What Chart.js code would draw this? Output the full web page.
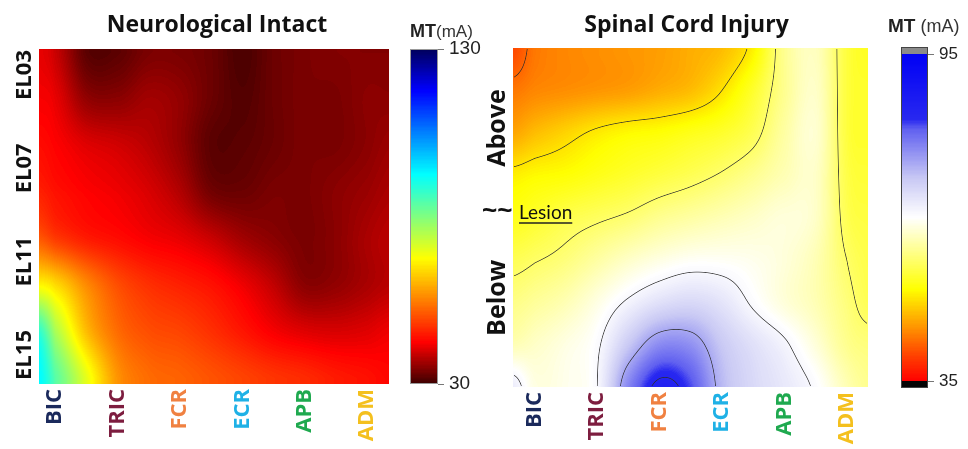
<!doctype html>
<html lang="en">
  <head>
    <meta charset="UTF-8" />
    <title>Motor Threshold Maps</title>
    <script src="https://cdn.jsdelivr.net/npm/chart.js"></script>
    <style>
      body { margin: 0; background: #fff; }
      #wrap { position: relative; width: 968px; height: 449px; }
      canvas { position: absolute; top: 0; }
    </style>
  </head>
  <body>
    <div id="wrap">
      <canvas id="niMap" width="400" height="449" style="left: 0"></canvas>
      <canvas id="niBar" width="90" height="449" style="left: 400px"></canvas>
      <canvas id="sciMap" width="410" height="449" style="left: 470px"></canvas>
      <canvas id="sciBar" width="88" height="449" style="left: 880px"></canvas>
    </div>

    <script>
      // muscles along the x axis
      var muscles = ["BIC", "TRIC", "FCR", "ECR", "APB", "ADM"];
      var muscleColors = ["#1b2a5c", "#7d1d3f", "#f08141", "#1fb1e6", "#1fa94f", "#f4c01e"];

      // Neurological intact: MT (mA), rows = electrode EL02..EL16, cols = muscle position
      var niElectrodeTicks = [3, 7, 11, 15];
      var niCols = [-0.26, 0, 0.5, 1, 1.5, 2, 2.5, 3, 3.5, 4, 4.5, 5, 5.35];
      var niRows = [2, 4, 6, 8, 10, 12, 14, 16];
      var niMT = [
        [41, 39, 32, 32, 34, 34, 33, 31, 33, 34, 34.5, 34.5, 34.5],
        [42, 41, 35.5, 35, 36.5, 35.5, 33, 31.5, 33, 34, 34, 35, 35],
        [43.5, 42.5, 40.5, 39.5, 38, 35.5, 32, 32, 33, 34, 34, 35, 36],
        [45.5, 44, 42.5, 41.5, 40, 37.5, 33.5, 33, 34, 34, 35, 36, 37],
        [51, 48, 45, 43.5, 42, 41, 39, 36.5, 35, 34, 35, 37, 38],
        [67, 64, 56, 50, 47, 45.5, 44, 41.5, 38.5, 35, 35.5, 37, 38],
        [88, 76, 61, 53, 50, 49, 47, 44.5, 42, 40.5, 40, 40.5, 41.5],
        [93, 84, 70, 57, 53, 52, 50.5, 49, 47.5, 46.5, 45, 44, 43],
      ];
      var niRange = [30, 130];

      // Spinal cord injury: MT (mA), rows = position from top (0) to bottom (1)
      var sciCols = [-0.35, 0, 0.5, 1, 1.5, 2, 2.5, 3, 3.5, 4, 4.5, 5, 5.34];
      var sciRows = [0, 0.125, 0.25, 0.375, 0.5, 0.625, 0.75, 0.875, 1];
      var sciMT = [
        [40, 43, 44, 44.5, 45, 45.5, 46.5, 47.5, 51, 59, 61.5, 55, 53.5],
        [43, 44, 44.5, 45, 45.5, 46.5, 47.5, 50, 54, 59, 62, 55, 54],
        [46, 47.5, 49, 50.5, 51.5, 52, 53, 54, 56, 60, 62.5, 55, 54],
        [50.8, 51.5, 52, 53, 54, 55, 56, 57.3, 59, 61, 62, 55.5, 54.5],
        [53, 54, 55.5, 56.5, 57.5, 59, 60, 61, 62, 63, 62, 56, 55],
        [56, 56.8, 58, 60, 62, 63.5, 64.5, 64.5, 64, 63, 61, 57, 55.5],
        [58.5, 59.5, 61, 63.5, 66.5, 69, 70, 68.5, 65.5, 63, 61, 58, 56],
        [61, 62, 63.5, 65.5, 72, 77.5, 77, 72, 69, 66.5, 63, 59, 58],
        [67.5, 63.5, 64, 66, 78, 85, 82, 73.5, 70, 68, 65.5, 61, 59],
      ];
      var sciLevels = [42, 50, 57, 66, 75, 84];
      var sciRange = [35, 95];
      var sciRegions = ["Above", "Below"];
      var sciRegionAt = [0.236, 0.737];
      var sciLesionAt = 0.487;

      // colour maps (t from 0 = low MT to 1 = high MT)
      var jetStops = [
        [0, [60, 0, 0]], [0.125, [255, 0, 0]], [0.375, [255, 255, 0]],
        [0.625, [0, 255, 255]], [0.875, [0, 0, 255]], [1, [0, 0, 90]],
      ];
      var sciStops = [
        [0, [255, 0, 0]], [0.07, [255, 58, 0]], [0.16, [255, 144, 0]], [0.28, [255, 255, 0]],
        [0.4, [255, 255, 144]], [0.5, [255, 255, 255]], [0.62, [200, 200, 244]],
        [0.77, [96, 96, 240]], [0.8, [40, 40, 240]], [1, [0, 0, 245]],
      ];

      var boldFont = "'Open Sans'";
      Chart.defaults.font.family = "Open Sans";

      function makeLut(stops) {
        var out = [];
        for (var k = 0; k < 256; k++) {
          var t = k / 255, s = 0;
          while (s < stops.length - 2 && t > stops[s + 1][0]) s++;
          var a = stops[s], b = stops[s + 1];
          var f = Math.min(1, Math.max(0, (t - a[0]) / (b[0] - a[0])));
          out.push(a[1].map(function (v, i) { return Math.round(v + (b[1][i] - v) * f); }));
        }
        return out;
      }

      function fracIndex(arr, v) {
        var n = arr.length;
        if (v <= arr[0]) return 0;
        if (v >= arr[n - 1]) return n - 1;
        var k = 0;
        while (arr[k + 1] < v) k++;
        return k + (v - arr[k]) / (arr[k + 1] - arr[k]);
      }

      function catmull(p0, p1, p2, p3, t) {
        return 0.5 * (2 * p1 + (p2 - p0) * t + (2 * p0 - 5 * p1 + 4 * p2 - p3) * t * t + (3 * p1 - p0 - 3 * p2 + p3) * t * t * t);
      }

      function sampleGrid(grid, fr, fc) {
        var nr = grid.length, nc = grid[0].length;
        var r = Math.min(Math.floor(fr), nr - 2), c = Math.min(Math.floor(fc), nc - 2);
        var tr = fr - r, tc = fc - c;
        var cl = function (i, n) { return Math.max(0, Math.min(n - 1, i)); };
        var row = function (rr) {
          var g = grid[cl(rr, nr)];
          return catmull(g[cl(c - 1, nc)], g[c], g[c + 1], g[cl(c + 2, nc)], tc);
        };
        return catmull(row(r - 1), row(r), row(r + 1), row(r + 2), tr);
      }

      // paints the MT surface into the chart area, using the chart's own x / y scales
      function heatmapLayer(cfg) {
        var lut = makeLut(cfg.stops);
        return {
          id: "heatmapLayer",
          beforeDatasetsDraw: function (chart) {
            var ctx = chart.ctx, area = chart.chartArea, sx = chart.scales.x, sy = chart.scales.y;
            var x0 = Math.round(area.left), y0 = Math.round(area.top);
            var w = Math.round(area.right) - x0, h = Math.round(area.bottom) - y0;
            var fc = [], fr = [];
            for (var i = 0; i < w; i++) fc.push(fracIndex(cfg.cols, sx.getValueForPixel(x0 + i + 0.5)));
            for (var j = 0; j < h; j++) fr.push(fracIndex(cfg.rows, sy.getValueForPixel(y0 + j + 0.5)));
            var vals = new Float32Array(w * h);
            for (j = 0; j < h; j++) for (i = 0; i < w; i++) vals[j * w + i] = sampleGrid(cfg.grid, fr[j], fc[i]);

            var img = ctx.createImageData(w, h), d = img.data;
            var lo = cfg.range[0], hi = cfg.range[1];
            for (var p = 0; p < w * h; p++) {
              var t = Math.min(1, Math.max(0, (vals[p] - lo) / (hi - lo)));
              var col = lut[Math.round(t * 255)];
              d[p * 4] = col[0]; d[p * 4 + 1] = col[1]; d[p * 4 + 2] = col[2]; d[p * 4 + 3] = 255;
            }
            // thin iso-lines
            if (cfg.levels) {
              for (j = 1; j < h - 1; j++) {
                for (i = 1; i < w - 1; i++) {
                  p = j * w + i;
                  var gx = (vals[p + 1] - vals[p - 1]) / 2, gy = (vals[p + w] - vals[p - w]) / 2;
                  var g = Math.sqrt(gx * gx + gy * gy) + 1e-6, a = 0;
                  cfg.levels.forEach(function (L) {
                    var dist = Math.abs(vals[p] - L) / g;
                    a = Math.max(a, 1 - dist / 0.8);
                  });
                  if (a > 0) {
                    a *= 0.85;
                    d[p * 4] = d[p * 4] * (1 - a) + 45 * a;
                    d[p * 4 + 1] = d[p * 4 + 1] * (1 - a) + 45 * a;
                    d[p * 4 + 2] = d[p * 4 + 2] * (1 - a) + 45 * a;
                  }
                }
              }
            }
            ctx.putImageData(img, x0, y0);
          },
          afterDraw: function (chart) {
            var ctx = chart.ctx, area = chart.chartArea;
            ctx.save();
            ctx.fillStyle = "#111";
            ctx.font = "bold 23px " + boldFont;
            ctx.textAlign = "center";
            ctx.textBaseline = "alphabetic";
            ctx.fillText(cfg.title, (area.left + area.right) / 2 + cfg.titleShift, 32);
            cfg.drawSide(chart, ctx);
            ctx.restore();
          },
        };
      }

      function vText(ctx, text, x, y) {
        ctx.save();
        ctx.translate(x, y);
        ctx.rotate(-Math.PI / 2);
        ctx.textAlign = "center";
        ctx.fillText(text, 0, 0);
        ctx.restore();
      }

      function mapChart(id, opt) {
        return new Chart(document.getElementById(id), {
          type: "scatter",
          data: { datasets: [] },
          options: {
            responsive: false,
            animation: false,
            layout: { padding: opt.padding },
            plugins: { legend: { display: false }, tooltip: { enabled: false } },
            scales: {
              x: {
                type: "linear",
                min: opt.cols[0],
                max: opt.cols[opt.cols.length - 1],
                grid: { display: false, drawTicks: false },
                border: { display: false },
                afterBuildTicks: function (s) { s.ticks = muscles.map(function (m, i) { return { value: i }; }); },
                afterFit: function (s) { s.height = opt.xHeight; },
                ticks: {
                  autoSkip: false,
                  minRotation: 90,
                  maxRotation: 90,
                  padding: 5,
                  font: { family: "Open Sans", weight: "bold", size: 22 },
                  color: function (c) { return muscleColors[c.index]; },
                  callback: function (v) { return muscles[v]; },
                },
              },
              y: {
                type: "linear",
                reverse: true,
                min: opt.yMin,
                max: opt.yMax,
                grid: { display: false, drawTicks: false },
                border: { display: false },
                ticks: { display: false },
                afterFit: function (s) { s.width = opt.yWidth; },
              },
            },
          },
          plugins: [heatmapLayer(opt)],
        });
      }

      // colour bar drawn along its own value scale
      function barChart(id, opt) {
        var lut = makeLut(opt.stops);
        return new Chart(document.getElementById(id), {
          type: "scatter",
          data: { datasets: [] },
          options: {
            responsive: false,
            animation: false,
            layout: { padding: opt.padding },
            plugins: { legend: { display: false }, tooltip: { enabled: false } },
            scales: {
              x: { display: false, min: 0, max: 1 },
              y: {
                position: "right",
                min: opt.range[0],
                max: opt.range[1],
                afterBuildTicks: function (s) { s.ticks = opt.range.map(function (v) { return { value: v }; }); },
                afterFit: function (s) { s.width = opt.axisWidth; },
                grid: { drawOnChartArea: false, drawTicks: true, tickLength: 6, color: "#777" },
                border: { display: false },
                ticks: { padding: 5, font: { family: "Liberation Sans", size: opt.fontSize }, color: "#222" },
              },
            },
          },
          plugins: [
            {
              id: "colorbar",
              beforeDatasetsDraw: function (chart) {
                var ctx = chart.ctx, a = chart.chartArea, sy = chart.scales.y;
                var lo = opt.range[0], hi = opt.range[1];
                ctx.save();
                for (var py = Math.round(a.top); py < Math.round(a.bottom); py++) {
                  var t = Math.min(1, Math.max(0, (sy.getValueForPixel(py + 0.5) - lo) / (hi - lo)));
                  var c = lut[Math.round(t * 255)];
                  ctx.fillStyle = "rgb(" + c.join(",") + ")";
                  ctx.fillRect(a.left, py, a.right - a.left, 1);
                }
                var cap = opt.caps ? 7 : 0;
                if (cap) {
                  ctx.fillStyle = "#8a8a8a";
                  ctx.fillRect(a.left, a.top - cap, a.right - a.left, cap);
                  ctx.fillStyle = "#050505";
                  ctx.fillRect(a.left, a.bottom, a.right - a.left, cap);
                }
                ctx.strokeStyle = opt.caps ? "#444" : "#999";
                ctx.lineWidth = 1;
                ctx.strokeRect(a.left + 0.5, a.top - cap + 0.5, a.right - a.left - 1, a.bottom - a.top + 2 * cap - 1);
                // unit label
                ctx.fillStyle = "#222";
                ctx.textBaseline = "alphabetic";
                ctx.font = "bold " + opt.unitSize + "px 'Liberation Sans'";
                ctx.fillText("MT", opt.unitX, opt.unitY);
                var mw = ctx.measureText("MT").width + opt.unitGap;
                ctx.font = opt.unitSize - 1 + "px 'Liberation Sans'";
                ctx.fillStyle = "#333";
                ctx.fillText("(mA)", opt.unitX + mw, opt.unitY);
                ctx.restore();
              },
            },
          ],
        });
      }

      // Chart 1: neurologically intact
      mapChart("niMap", {
        title: "Neurological Intact", titleShift: 3,
        cols: niCols, rows: niRows, grid: niMT, range: niRange, stops: jetStops,
        yMin: 1.886, yMax: 16.243,
        padding: { left: 0, right: 11, top: 49, bottom: 0 },
        xHeight: 65, yWidth: 39,
        drawSide: function (chart, ctx) {
          ctx.font = "bold 22px " + boldFont;
          niElectrodeTicks.forEach(function (el) {
            vText(ctx, "EL" + String(el).padStart(2, "0"), 31, chart.scales.y.getPixelForValue(el));
          });
        },
      });
      barChart("niBar", {
        range: niRange, stops: jetStops, caps: false,
        padding: { left: 10, right: 0, top: 49, bottom: 65 },
        axisWidth: 52, fontSize: 19,
        unitX: 10, unitY: 37, unitSize: 18, unitGap: 0,
      });

      // Chart 2: spinal cord injury
      mapChart("sciMap", {
        title: "Spinal Cord Injury", titleShift: -4,
        cols: sciCols, rows: sciRows, grid: sciMT, range: sciRange, stops: sciStops, levels: sciLevels,
        yMin: 0, yMax: 1,
        padding: { left: 0, right: 12, top: 48, bottom: 0 },
        xHeight: 62, yWidth: 43,
        drawSide: function (chart, ctx) {
          var sy = chart.scales.y, ly = sy.getPixelForValue(sciLesionAt);
          ctx.font = "bold 25px " + boldFont;
          sciRegions.forEach(function (r, i) { vText(ctx, r, 35, sy.getPixelForValue(sciRegionAt[i])); });
          ctx.font = "bold 26px 'Liberation Sans'";
          ctx.textAlign = "left";
          ctx.textBaseline = "middle";
          ctx.fillText("~~", 12, ly - 1);
          ctx.font = "19px Lato";
          ctx.fillText("Lesion", 49, ly);
          var lw = ctx.measureText("Lesion").width;
          ctx.strokeStyle = "#222";
          ctx.lineWidth = 1.5;
          ctx.beginPath();
          ctx.moveTo(49, ly + 10);
          ctx.lineTo(49 + lw, ly + 10);
          ctx.stroke();
        },
      });
      barChart("sciBar", {
        range: sciRange, stops: sciStops, caps: true,
        padding: { left: 21, right: 0, top: 54, bottom: 68 },
        axisWidth: 40, fontSize: 17,
        unitX: 8, unitY: 32, unitSize: 19, unitGap: 5,
      });
    </script>
  </body>
</html>
